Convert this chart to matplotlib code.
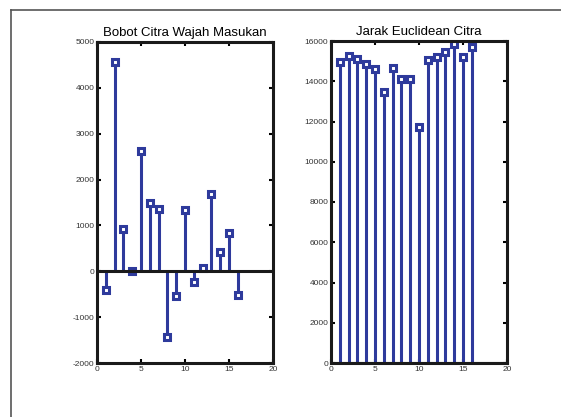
import matplotlib.pyplot as plt
from matplotlib.lines import Line2D

plt.rcParams["font.family"] = ["Liberation Sans", "DejaVu Sans"]
plt.rcParams["axes.unicode_minus"] = False

idx = list(range(1, 17))
bobot = [-417, 4555, 914, 10, 2616, 1498, 1352, -1425, -533, 1338, -234, 73, 1696, 417, 840, -526]
jarak = [14935, 15250, 15083, 14833, 14633, 13467, 14667, 14100, 14133, 11717,
         15050, 15217, 15467, 15850, 15217, 15717]

blue = "#2e3a9c"

fig = plt.figure(figsize=(5.61, 4.17), dpi=100)

# partial frame of the cropped window
fig.add_artist(Line2D([11 / 561, 1], [1 - 10 / 417, 1 - 10 / 417], color="#555555", lw=1.2))
fig.add_artist(Line2D([11 / 561, 11 / 561], [0, 1 - 10 / 417], color="#555555", lw=1.2))

ax1 = fig.add_axes([97 / 561, 1 - 363 / 417, 176 / 561, 321 / 417])
ax2 = fig.add_axes([331 / 561, 1 - 363 / 417, 176 / 561, 322 / 417])


def style(ax):
    for s in ax.spines.values():
        s.set_linewidth(2.2)
        s.set_color("#1a1a1a")
    ax.tick_params(direction="in", length=3, width=1.5, labelsize=6,
                   top=True, right=True, pad=2, labelcolor="#333333")


def draw_stem(ax, y):
    ml, sl, bl = ax.stem(idx, y, linefmt="-", markerfmt="s", basefmt=" ")
    plt.setp(sl, color=blue, linewidth=2.2)
    plt.setp(ml, color=blue, markersize=4.5, markerfacecolor="white", markeredgewidth=2.2)
    bl.set_visible(False)
    ax.axhline(0, color="#1a1a1a", linewidth=2.2, zorder=3)


draw_stem(ax1, bobot)
ax1.set_xlim(0, 20)
ax1.set_ylim(-2000, 5000)
ax1.set_xticks([0, 5, 10, 15, 20])
ax1.set_yticks(range(-2000, 5001, 1000))
ax1.set_title("Bobot Citra Wajah Masukan", fontsize=9.5, pad=4)
style(ax1)

draw_stem(ax2, jarak)
ax2.set_xlim(0, 20)
ax2.set_ylim(0, 16000)
ax2.set_xticks([0, 5, 10, 15, 20])
ax2.set_yticks(range(0, 16001, 2000))
ax2.set_title("Jarak Euclidean Citra", fontsize=9.5, pad=4)
style(ax2)

plt.savefig("out.png", dpi=100)
